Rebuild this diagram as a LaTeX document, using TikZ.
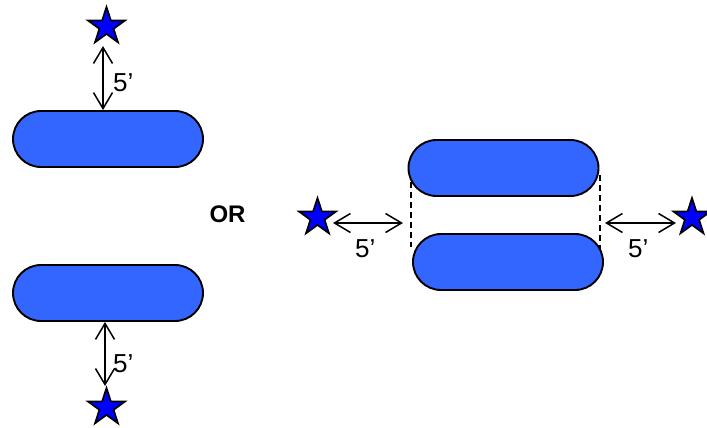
\documentclass[tikz,border=0pt]{standalone}
\usepackage{fontspec}
\setmainfont{Liberation Sans}
\usetikzlibrary{shapes.geometric,arrows.meta}
\definecolor{pillblue}{HTML}{3366FF}
\definecolor{starblue}{HTML}{0000FF}
\tikzset{
  pill/.style={draw=black, line width=1.9pt, fill=pillblue, rectangle, rounded corners=28pt,
    minimum width=190pt, minimum height=56pt, inner sep=0pt},
  starnode/.style={draw=black, line width=1.7pt, fill=starblue, star, star points=5,
    star point ratio=2.618, minimum size=39pt, inner sep=0pt},
  dimline/.style={line width=1.5pt, {Straight Barb[length=16pt,width=19pt,line width=1.5pt]}-{Straight Barb[length=16pt,width=19pt,line width=1.5pt]}},
  gap/.style={line width=1.7pt, dash pattern=on 6pt off 4pt},
  lbl/.style={font=\fontsize{26}{30}\selectfont, inner sep=0pt, anchor=base west},
  ortxt/.style={font=\fontsize{24}{28}\selectfont\bfseries, inner sep=0pt}
}
\begin{document}
\begin{tikzpicture}[x=1pt,y=-1pt]
\useasboundingbox (0,0) rectangle (707,428);
% left column
\node[pill] (p1) at (108,139) {};
\node[pill] (p2) at (108,293) {};
\node[starnode] (s1) at (106.5,26.5) {};
\node[starnode] (s2) at (106.5,407.5) {};
\coordinate (a1) at (103,46);
\coordinate (a2) at (105,386);
\draw[dimline] (a1) -- (a1 |- p1.north);
\draw[dimline] (a2 |- p2.south) -- (a2);
\node[lbl] (l1) at (113,92) {5’};
\node[lbl] (l2) at (113,372) {5’};
% OR
\node[ortxt] (or) at (227.5,214.5) {OR};
% right group
\node[pill] (p3) at (503.5,168) {};
\node[pill] (p4) at (508,262) {};
\node[starnode] (s3) at (317.5,217.5) {};
\node[starnode] (s4) at (692,217.5) {};
\coordinate (d1t) at (411,182);
\coordinate (d1b) at (411,247);
\coordinate (d2t) at (600,175);
\coordinate (d2b) at (600,250);
\draw[gap] (d1t) -- (d1b);
\draw[gap] (d2t) -- (d2b);
\coordinate (a3s) at (333,223);
\coordinate (a3e) at (403,223);
\coordinate (a4s) at (605,223);
\coordinate (a4e) at (676,223);
\draw[dimline] (a3s) -- (a3e);
\draw[dimline] (a4s) -- (a4e);
\node[lbl] (l3) at (355,257) {5’};
\node[lbl] (l4) at (628,257) {5’};
\end{tikzpicture}
\end{document}
